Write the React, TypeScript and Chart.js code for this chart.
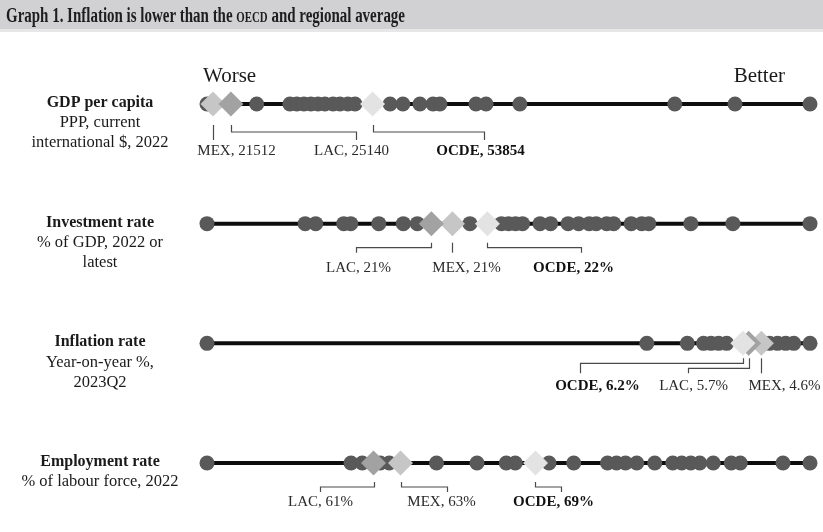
import React, { useEffect, useRef } from 'react';
import { Chart, registerables } from 'chart.js';

Chart.register(...registerables);

// Indicator rows, top to bottom
const rowTitles = ['GDP per capita', 'Investment rate', 'Inflation rate', 'Employment rate'];
const rowNotes = [
  ['PPP, current', 'international $, 2022'],
  ['% of GDP, 2022 or', 'latest'],
  ['Year-on-year %,', '2023Q2'],
  ['% of labour force, 2022'],
];

// Country values for each indicator
const gdpPerCapita = [
  20300, 30370, 37100, 38500, 39950, 41350, 42800, 44200, 45850, 47250, 48850, 50300,
  57400, 60000, 63450, 66100, 67500, 74800, 76850, 83700, 115100, 127300, 142500,
];
const investmentRate = [
  14.2, 17.0, 17.3, 18.1, 18.3, 19.1, 19.8, 20.2, 21.7, 22.6, 22.8, 23.0, 23.2,
  23.7, 24.0, 24.5, 24.8, 25.1, 25.3, 25.6, 25.8, 26.3, 26.6, 26.8, 28.0, 29.2, 31.4,
];
const inflationRate = [52.5, 14.5, 11.0, 9.6, 8.95, 8.3, 7.6, 3.9, 3.2, 2.5, 1.8, 0.4];
const employmentRate = [
  54.0, 60.4, 60.9, 61.7, 62.1, 64.2, 66.0, 67.3, 67.7, 69.2, 70.3, 71.8, 72.2, 72.6,
  73.1, 73.9, 74.7, 75.1, 75.5, 75.9, 76.5, 77.3, 77.7, 79.6, 80.8,
];

// Benchmarks: Mexico, Latin America & Caribbean, OECD
const mexValues = [21512, 21.2, 4.6, 62.6];
const lacValues = [25140, 20.6, 5.7, 61.4];
const ocdeValues = [53854, 22.2, 6.2, 68.6];

const rowValues = [gdpPerCapita, investmentRate, inflationRate, employmentRate];
// For inflation a lower value is better, so that axis runs right to left
const lowerIsBetter = [false, false, true, false];
const formatters = [
  (v: number) => String(Math.round(v)),
  (v: number) => `${Math.round(v)}%`,
  (v: number) => `${v.toFixed(1)}%`,
  (v: number) => `${Math.round(v)}%`,
];

const benchmarks = [
  { name: 'MEX', values: mexValues, color: '#c6c6c6', bold: false, order: 3 },
  { name: 'LAC', values: lacValues, color: '#a2a2a2', bold: false, order: 2 },
  { name: 'OCDE', values: ocdeValues, color: '#e3e3e3', bold: true, order: 1 },
];

// Callout geometry (pixels): vertical offsets per row, horizontal offsets per label
const rowCallout = [
  { top: 21, end: 36, text: 47 },
  { top: 19, end: 29, text: 44 },
  { top: 15, end: 30, text: 43 },
  { top: 19, end: 29, text: 39 },
];
type Callout = { dx: number; level: number; labelDx: number };
const callouts: Record<string, Callout>[] = [
  { MEX: { dx: 0, level: 28, labelDx: 23 }, LAC: { dx: 125, level: 28, labelDx: -5 }, OCDE: { dx: 111, level: 28, labelDx: -4 } },
  { MEX: { dx: 0, level: 24, labelDx: 14 }, LAC: { dx: -75, level: 24, labelDx: 2 }, OCDE: { dx: 94, level: 24, labelDx: -8 } },
  { MEX: { dx: 0, level: 25, labelDx: 23 }, LAC: { dx: -61, level: 25, labelDx: 5 }, OCDE: { dx: -163, level: 20, labelDx: 17 } },
  { MEX: { dx: 46, level: 24, labelDx: -6 }, LAC: { dx: -54, level: 24, labelDx: 0 }, OCDE: { dx: 26, level: 24, labelDx: -8 } },
];

const SERIF = '"Liberation Serif", "Times New Roman", serif';

const annotations = {
  id: 'stripAnnotations',
  afterDatasetsDraw(chart: any) {
    const ctx: CanvasRenderingContext2D = chart.ctx;
    const yScale = chart.scales.y;
    ctx.save();
    ctx.strokeStyle = '#4a4a4a';
    ctx.lineWidth = 1.2;
    ctx.textAlign = 'center';
    ctx.textBaseline = 'middle';
    rowTitles.forEach((_, i) => {
      const rowY = yScale.getPixelForValue(i);
      const xs = chart.scales[`x${i}`];
      const g = rowCallout[i];
      benchmarks.forEach((b) => {
        const c = callouts[i][b.name];
        const mx = Math.round(xs.getPixelForValue(b.values[i])) + 0.5;
        const ex = mx + c.dx;
        ctx.beginPath();
        ctx.moveTo(mx, rowY + g.top);
        if (c.dx !== 0) {
          ctx.lineTo(mx, rowY + c.level);
          ctx.lineTo(ex, rowY + c.level);
        }
        ctx.lineTo(ex, rowY + g.end);
        ctx.stroke();
        ctx.fillStyle = b.bold ? '#111' : '#2a2a2a';
        ctx.font = `${b.bold ? 'bold ' : ''}15px ${SERIF}`;
        ctx.fillText(`${b.name}, ${formatters[i](b.values[i])}`, ex + c.labelDx, rowY + g.text);
      });
    });
    ctx.restore();
  },
  afterDraw(chart: any) {
    const ctx: CanvasRenderingContext2D = chart.ctx;
    const yScale = chart.scales.y;
    ctx.save();

    // Heading band
    ctx.fillStyle = '#d1d1d3';
    ctx.fillRect(0, 0, chart.width, 29);
    ctx.fillStyle = '#e7e7e7';
    ctx.fillRect(0, 29, chart.width, 3);
    const parts = [
      { t: 'Graph 1. Inflation is lower than the ', f: `bold 20px ${SERIF}` },
      { t: 'OECD', f: `bold 14.5px ${SERIF}` },
      { t: ' and regional average', f: `bold 20px ${SERIF}` },
    ];
    let total = 0;
    parts.forEach((p) => {
      ctx.font = p.f;
      total += ctx.measureText(p.t).width;
    });
    ctx.translate(6, 22);
    ctx.scale(399 / total, 1);
    ctx.fillStyle = '#1e1e1e';
    ctx.textBaseline = 'alphabetic';
    ctx.textAlign = 'left';
    let x = 0;
    parts.forEach((p) => {
      ctx.font = p.f;
      ctx.fillText(p.t, x, 0);
      x += ctx.measureText(p.t).width;
    });
    ctx.restore();

    ctx.save();
    ctx.fillStyle = '#1a1a1a';
    ctx.textBaseline = 'middle';
    ctx.font = `21px ${SERIF}`;
    ctx.textAlign = 'left';
    ctx.fillText('Worse', 203, 76);
    ctx.textAlign = 'right';
    ctx.fillText('Better', 785, 76);

    // Row captions
    ctx.textAlign = 'center';
    rowTitles.forEach((title, i) => {
      const rowY = yScale.getPixelForValue(i);
      ctx.font = `bold 16px ${SERIF}`;
      ctx.fillText(title, 100, rowY - 1);
      ctx.font = `16.5px ${SERIF}`;
      rowNotes[i].forEach((line, k) => ctx.fillText(line, 100, rowY - 1 + 20 * (k + 1)));
    });
    ctx.restore();
  },
};

export default function App() {
  const canvasRef = useRef<HTMLCanvasElement | null>(null);

  useEffect(() => {
    if (!canvasRef.current) return;
    const scales: any = {
      y: { type: 'linear', min: 0, max: 3, reverse: true, display: false },
    };
    const datasets: any[] = [];
    rowValues.forEach((values, i) => {
      const all = [...values, mexValues[i], lacValues[i], ocdeValues[i]];
      const lo = Math.min(...all);
      const hi = Math.max(...all);
      scales[`x${i}`] = {
        type: 'linear',
        axis: 'x',
        position: 'bottom',
        min: lo,
        max: hi,
        reverse: lowerIsBetter[i],
        display: false,
      };
      datasets.push({
        label: `${rowTitles[i]} range`,
        data: [{ x: lo, y: i }, { x: hi, y: i }],
        xAxisID: `x${i}`,
        showLine: true,
        borderColor: '#0d0d0d',
        borderWidth: 4,
        pointRadius: 0,
        clip: false,
        order: 20,
      });
      datasets.push({
        label: rowTitles[i],
        data: values.map((v) => ({ x: v, y: i })),
        xAxisID: `x${i}`,
        pointRadius: 7.5,
        pointHoverRadius: 7.5,
        backgroundColor: '#595959',
        borderWidth: 0,
        clip: false,
        order: 10,
      });
      benchmarks.forEach((b) => {
        datasets.push({
          label: `${b.name} ${rowTitles[i]}`,
          data: [{ x: b.values[i], y: i }],
          xAxisID: `x${i}`,
          pointStyle: 'rectRot',
          pointRadius: 12.5,
          pointHoverRadius: 12.5,
          backgroundColor: b.color,
          borderWidth: 0,
          clip: false,
          order: b.order,
        });
      });
    });

    const chart = new Chart(canvasRef.current, {
      type: 'scatter',
      data: { datasets },
      options: {
        animation: false,
        responsive: false,
        devicePixelRatio: 1,
        layout: { padding: { left: 207, right: 13, top: 104, bottom: 69 } },
        scales,
        plugins: { legend: { display: false }, tooltip: { enabled: false } },
        events: [],
      },
      plugins: [annotations],
    } as any);
    return () => chart.destroy();
  }, []);

  return (
    <div style={{ position: 'absolute', left: 0, top: 0, width: 823, height: 532, background: '#fff' }}>
      <canvas ref={canvasRef} width={823} height={532} style={{ display: 'block' }} />
    </div>
  );
}
